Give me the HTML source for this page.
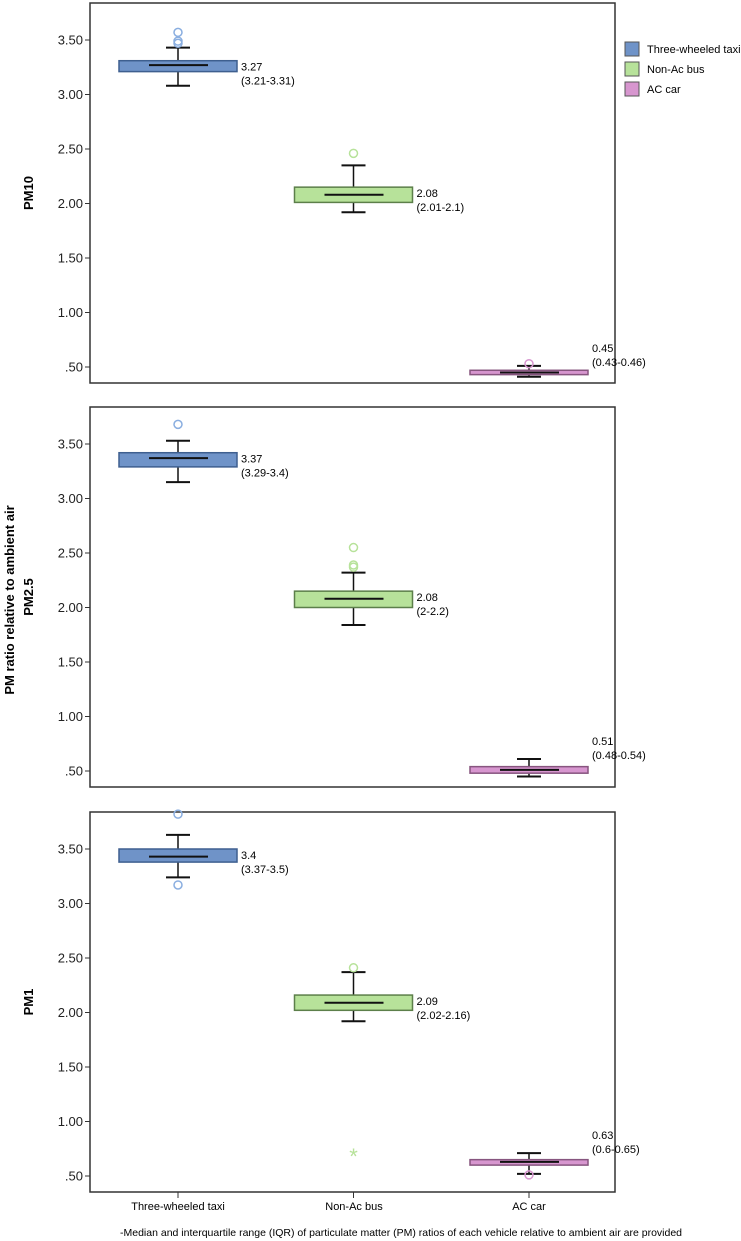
<!DOCTYPE html>
<html><head><meta charset="utf-8">
<style>
html,body{margin:0;padding:0;background:#fff;}
svg{display:block;font-family:"Liberation Sans",sans-serif;}
</style></head>
<body>
<svg id="chart" width="741" height="1241" viewBox="0 0 741 1241">
  <text x="0" y="0" transform="translate(14,600) rotate(-90)" text-anchor="middle" font-size="13" font-weight="bold">PM ratio relative to ambient air</text>
  <g>
    <rect x="625" y="42" width="14" height="14" fill="#6f93c8" stroke="#555"/>
    <text x="647" y="53" font-size="11">Three-wheeled taxi</text>
    <rect x="625" y="62" width="14" height="14" fill="#b7e29a" stroke="#555"/>
    <text x="647" y="73" font-size="11">Non-Ac bus</text>
    <rect x="625" y="82" width="14" height="14" fill="#d796cf" stroke="#555"/>
    <text x="647" y="93" font-size="11">AC car</text>
  </g>
  <g id="panels"></g>
  <g>
    <text x="178" y="1210" text-anchor="middle" font-size="11">Three-wheeled taxi</text>
    <text x="354" y="1210" text-anchor="middle" font-size="11">Non-Ac bus</text>
    <text x="529" y="1210" text-anchor="middle" font-size="11">AC car</text>
  </g>
  <text x="120" y="1236" font-size="10.5">-Median and interquartile range (IQR) of particulate matter (PM) ratios of each vehicle relative to ambient air are provided</text>
</svg>
<script>
const categories = ["Three-wheeled taxi","Non-Ac bus","AC car"];
const panelNames = ["PM10","PM2.5","PM1"];
const yTicks = [0.5,1.0,1.5,2.0,2.5,3.0,3.5];
const yTickLabels = [".50","1.00","1.50","2.00","2.50","3.00","3.50"];
// [whiskerLow, q1, median, q3, whiskerHigh] per panel per category
const pm10Stats = [[3.08,3.21,3.27,3.31,3.43],[1.92,2.01,2.08,2.15,2.35],[0.41,0.43,0.45,0.47,0.51]];
const pm25Stats = [[3.15,3.29,3.37,3.42,3.53],[1.84,2.00,2.08,2.15,2.32],[0.45,0.48,0.51,0.54,0.61]];
const pm1Stats  = [[3.24,3.38,3.43,3.50,3.63],[1.92,2.02,2.09,2.16,2.37],[0.52,0.60,0.63,0.65,0.71]];
const pm10Outliers = [[3.47,3.49,3.57],[2.46],[0.53]];
const pm25Outliers = [[3.68],[2.37,2.39,2.55],[]];
const pm1Outliers  = [[3.82,3.17],[2.41],[0.51]];
const pm1Extremes  = [[],[0.70],[]];
const pm10Labels = [["3.27","(3.21-3.31)"],["2.08","(2.01-2.1)"],["0.45","(0.43-0.46)"]];
const pm25Labels = [["3.37","(3.29-3.4)"],["2.08","(2-2.2)"],["0.51","(0.48-0.54)"]];
const pm1Labels  = [["3.4","(3.37-3.5)"],["2.09","(2.02-2.16)"],["0.63","(0.6-0.65)"]];

const stats=[pm10Stats,pm25Stats,pm1Stats];
const outl=[pm10Outliers,pm25Outliers,pm1Outliers];
const extr=[[[],[],[]],[[],[],[]],pm1Extremes];
const labs=[pm10Labels,pm25Labels,pm1Labels];
const fills=["#6f93c8","#b7e29a","#d796cf"];
const strokes=["#3e5f8f","#5c7f4a","#87557f"];
const outCols=["#8aaee0","#b7e29a","#d796cf"];
const tops=[3,407,812];
const L=90,R=615,H=380;
const NS="http://www.w3.org/2000/svg";
const root=document.getElementById('panels');
function xS(i){return 178+i*175.5;}
function mk(tag,attrs,parent){const e=document.createElementNS(NS,tag);for(const k in attrs)e.setAttribute(k,attrs[k]);parent.appendChild(e);return e;}
stats.forEach((ps,p)=>{
  const T=tops[p];
  const yS=v=>T+37+(3.5-v)*109;
  const g=mk('g',{},root);
  
  
  const fr=mk('rect',{x:L,y:T,width:R-L,height:H,fill:'none',stroke:'#333','stroke-width':1.5},g);
  
  
  const pt=mk('text',{transform:`translate(33,${T+H/2}) rotate(-90)`,'text-anchor':'middle','font-size':13,'font-weight':'bold'},g);
  pt.textContent=panelNames[p];
  
  
  yTicks.forEach((t,i)=>{
    const y=yS(t);
    const tk=mk('line',{x1:L-5,x2:L,y1:y,y2:y,stroke:'#333'},g);
    
    
    const tl=mk('text',{x:L-7,y:y+4.5,'text-anchor':'end','font-size':13,fill:'#222'},g);
    tl.textContent=yTickLabels[i];
    
    
  });
  if(p===2){categories.forEach((c,i)=>{const xt=mk('line',{x1:xS(i),x2:xS(i),y1:T+H,y2:T+H+6,stroke:'#333'},g);
    
    });}
  ps.forEach((s,i)=>{
    const cx=xS(i);
    const bg=mk('g',{},g);
    
    
    mk('line',{x1:cx,x2:cx,y1:yS(s[0]),y2:yS(s[4]),stroke:'#111','stroke-width':1.5},bg);
    mk('line',{x1:cx-12,x2:cx+12,y1:yS(s[0]),y2:yS(s[0]),stroke:'#111','stroke-width':2},bg);
    mk('line',{x1:cx-12,x2:cx+12,y1:yS(s[4]),y2:yS(s[4]),stroke:'#111','stroke-width':2},bg);
    mk('rect',{x:cx-59,y:yS(s[3]),width:118,height:Math.max(yS(s[1])-yS(s[3]),2),fill:fills[i],stroke:strokes[i],'stroke-width':1.5},bg);
    mk('line',{x1:cx-29,x2:cx+30,y1:yS(s[2]),y2:yS(s[2]),stroke:'#111','stroke-width':2},bg);
    outl[p][i].forEach(v=>{const o=mk('circle',{cx:cx,cy:yS(v),r:4,fill:'none',stroke:outCols[i],'stroke-width':1.5},g);
      
      });
    extr[p][i].forEach(v=>{const o=mk('text',{x:cx,y:yS(v)+10,'text-anchor':'middle','font-size':22,fill:outCols[i]},g);o.textContent='*';
      
      });
    const ly=(i===2)?yS(s[4])-14:yS(s[3])+10;
    const t1=mk('text',{x:cx+63,y:ly,'font-size':11},g);t1.textContent=labs[p][i][0];
    
    
    const t2=mk('text',{x:cx+63,y:ly+14,'font-size':11},g);t2.textContent=labs[p][i][1];
    
    
  });
});
</script>
</body></html>
